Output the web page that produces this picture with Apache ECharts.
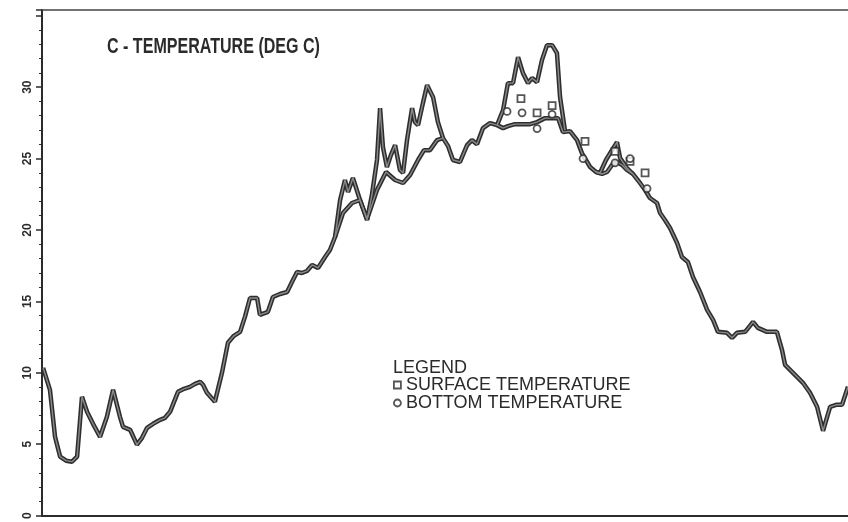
<!DOCTYPE html>
<html>
<head>
<meta charset="utf-8">
<script src="https://cdn.jsdelivr.net/npm/echarts@6/dist/echarts.min.js"></script>
<style>
  html, body { margin: 0; padding: 0; background: #fff; }
  #main { width: 848px; height: 522px; }
</style>
</head>
<body>
<div id="main"></div>
<script>
// day of year / temperature (deg C)
var bottomDays = [0.5, 3.6, 5.9, 8.2, 10.9, 13.6, 15.9, 18.1, 20.4, 23.1, 26.3, 29.4, 32.2, 35.3, 36.7, 39.9,
  43.0, 45.3, 47.6, 50.3, 53.5, 55.7, 58.0, 61.6, 64.3, 67.0, 69.3, 71.6, 72.9, 74.7, 78.3, 81.5, 84.2,
  86.9, 89.7, 91.9, 94.2, 97.4, 98.7, 102.3, 104.6, 107.8, 111.0, 113.2, 115.5, 117.7, 120.0, 122.3,
  125.0, 128.2, 130.4, 132.7, 136.3, 140.4, 144.0, 147.2, 151.7, 155.8, 159.9, 163.5, 166.7, 170.3,
  173.0, 175.7, 178.9, 181.6, 183.9, 186.1, 189.3, 192.5, 194.7, 197.0, 199.7, 202.9, 206.1, 208.8,
  211.0, 214.2, 217.4, 221.0, 224.2, 227.8, 231.0, 233.7, 235.9, 239.1, 242.3, 244.5, 248.2, 250.9,
  253.6, 255.9, 258.1, 260.4, 262.7, 264.9, 267.6, 270.8, 273.1, 275.3, 278.5, 279.9, 282.1, 284.4,
  287.6, 289.8, 292.5, 294.8, 298.0, 301.2, 303.9, 306.1, 310.2, 312.5, 314.7, 318.4, 320.6, 322.0,
  324.2, 328.3, 332.8, 335.1, 336.5, 340.1, 344.6, 347.8, 351.0, 353.7, 356.9, 359.6, 362.3, 365.0];
var bottomTemp = [10.35, 8.81, 5.52, 4.13, 3.85, 3.78, 4.13, 8.32, 7.27, 6.43, 5.52, 6.92, 8.81, 6.92, 6.22, 6.01,
  4.97, 5.45, 6.15, 6.43, 6.71, 6.85, 7.27, 8.67, 8.88, 9.02, 9.23, 9.37, 9.16, 8.60, 7.97, 10.0, 12.1,
  12.59, 12.87, 13.92, 15.24, 15.24, 14.06, 14.27, 15.31, 15.52, 15.66, 16.36, 17.06, 16.99, 17.13, 17.55,
  17.34, 18.11, 18.60, 19.51, 21.19, 21.89, 22.10, 20.77, 22.80, 24.06, 23.50, 23.29, 23.85, 24.90,
  25.59, 25.59, 26.29, 26.43, 25.87, 24.90, 24.76, 25.94, 26.29, 26.01, 27.13, 27.48, 27.34, 27.13,
  27.27, 27.41, 27.41, 27.41, 27.55, 27.83, 27.83, 27.83, 26.85, 26.92, 26.29, 25.38, 24.41, 24.06,
  23.92, 24.06, 24.55, 24.76, 24.55, 24.20, 23.92, 23.29, 22.80, 22.24, 21.89, 21.19, 20.70, 20.14,
  19.09, 18.11, 17.76, 16.71, 15.66, 14.41, 13.71, 12.87, 12.80, 12.45, 12.80, 12.87, 13.29, 13.57,
  13.15, 12.87, 12.87, 11.61, 10.56, 10.00, 9.30, 8.60, 7.62, 5.94, 7.62, 7.76, 7.76, 9.02];

// surface trace, only where it leaves the bottom trace ('-' = gap)
var surfaceDays = [132.7, 135.0, 137.2, 138.6, 140.8, 144.0, 147.2, 149.4, 151.7, 153.1, 154.4, 156.2, 158.0,
  159.9, 162.1, 163.5, 165.3, 167.6, 168.9, 170.3, 172.5, 174.4, 177.1, 179.3, 181.6,
  190,
  206.1, 208.8, 211.0, 213.3, 215.6, 217.8, 220.1, 221.9, 224.2, 226.4, 228.7, 231.0, 233.2, 234.6, 236.8,
  245,
  250.9, 252.7, 255.4, 258.1, 260.4, 261.8, 264.9, 267.6];
var surfaceTemp = [19.51, 22.10, 23.50, 22.66, 23.64, 22.10, 20.70, 22.45, 24.90, 28.53, 25.80, 24.41, 25.24,
  25.94, 24.20, 23.99, 26.29, 28.53, 27.55, 27.34, 28.88, 30.14, 29.30, 27.55, 26.43,
  '-',
  27.34, 28.39, 30.28, 30.28, 32.10, 30.98, 30.28, 30.63, 30.35, 31.89, 32.94, 32.94, 32.38, 29.30, 26.99,
  '-',
  24.06, 23.99, 24.90, 25.59, 26.15, 25.03, 24.34, 23.92];

// spot observations
var surfaceObsDays = [216.9, 224.2, 231.0, 245.9, 259.5, 266.3, 273.1];
var surfaceObs = [29.2, 28.2, 28.7, 26.2, 25.5, 24.8, 24.0];
var bottomObsDays = [210.6, 217.4, 224.2, 231.0, 245.0, 259.5, 266.3, 274.0];
var bottomObs = [28.3, 28.2, 27.1, 28.1, 25.0, 24.7, 25.0, 22.9];

function pairs(xs, ys) {
  return xs.map(function (x, i) { return [x, ys[i]]; });
}

var ink = '#2b2b2b';
var outer = { color: '#2e2e2e', width: 4.5 };
var inner = { color: '#8a8a8a', width: 1.4 };

function trace(name, data, style, z) {
  return {
    name: name, type: 'line', data: data, showSymbol: false,
    connectNulls: false, lineStyle: style, z: z, silent: true
  };
}

var myChart = echarts.init(document.getElementById('main'));
var option = {
  animation: false,
  backgroundColor: '#fff',
  title: {
    text: 'LEGEND',
    left: 393, top: 359, padding: 0,
    textStyle: { fontFamily: 'Liberation Sans', fontWeight: 'normal', fontSize: 18, color: ink }
  },
  graphic: [{
    type: 'text', left: 107, top: 36, scaleX: 0.73,
    style: { text: 'C - TEMPERATURE (DEG C)', font: 'bold 22px "Liberation Sans"', fill: ink }
  }],
  legend: {
    orient: 'vertical',
    left: 393, top: 376, padding: 0,
    itemWidth: 7, itemHeight: 7, itemGap: 0,
    textStyle: { fontFamily: 'Liberation Sans', fontSize: 18, color: ink, lineHeight: 18 },
    data: [
      { name: 'SURFACE TEMPERATURE', icon: 'rect', itemStyle: { color: '#fff', borderColor: ink, borderWidth: 1.8 } },
      { name: 'BOTTOM TEMPERATURE', icon: 'circle', itemStyle: { color: '#fff', borderColor: ink, borderWidth: 1.8 } }
    ]
  },
  grid: { left: 42, right: 0, top: 10, bottom: 6 },
  xAxis: [{
    type: 'value', min: 0, max: 365,
    axisLine: { show: true, lineStyle: { color: ink, width: 2 } },
    axisTick: { show: false }, axisLabel: { show: false }, splitLine: { show: false }
  }, {
    type: 'value', min: 0, max: 365, position: 'top',
    axisLine: { show: true, lineStyle: { color: '#444', width: 1.5 } },
    axisTick: { show: false }, axisLabel: { show: false }, splitLine: { show: false }
  }],
  yAxis: {
    type: 'value', min: 0, max: 35.4, interval: 5,
    axisLine: { show: true, lineStyle: { color: ink, width: 2 } },
    axisTick: { show: true, length: 6, lineStyle: { color: ink, width: 1.5 } },
    minorTick: { show: true, splitNumber: 5, length: 3, lineStyle: { color: ink } },
    splitLine: { show: false },
    axisLabel: {
      rotate: 90, margin: 8, fontSize: 12, fontWeight: 'bold', fontFamily: 'Liberation Sans', color: ink,
      formatter: function (v) { return v <= 30 ? String(v) : ''; }
    }
  },
  series: [
    trace('bottom trace', pairs(bottomDays, bottomTemp), outer, 2),
    trace('surface trace', pairs(surfaceDays, surfaceTemp), outer, 2),
    trace('bottom trace core', pairs(bottomDays, bottomTemp), inner, 3),
    trace('surface trace core', pairs(surfaceDays, surfaceTemp), inner, 3),
    {
      name: 'SURFACE TEMPERATURE', type: 'scatter', data: pairs(surfaceObsDays, surfaceObs),
      symbol: 'rect', symbolSize: 7,
      itemStyle: { color: '#fff', borderColor: ink, borderWidth: 1.8 }, z: 4
    }, {
      name: 'BOTTOM TEMPERATURE', type: 'scatter', data: pairs(bottomObsDays, bottomObs),
      symbol: 'circle', symbolSize: 7,
      itemStyle: { color: '#fff', borderColor: ink, borderWidth: 1.8 }, z: 4
    }
  ]
};
myChart.setOption(option);
</script>
</body>
</html>
